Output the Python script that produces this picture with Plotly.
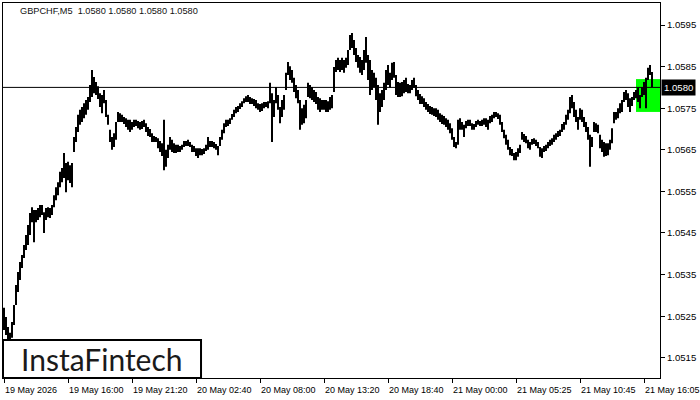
import plotly.graph_objects as go

# ---- data (prices as points above BASE, 1 point = 0.00001) ----
BASE = 1.05
high_pts = [
    270, 248, 224, 210, 236, 277, 325, 356, 380, 397, 421, 445, 469, 498, 512, 505, 505, 510, 517, 517, 500, 510, 512, 510, 517,
    541, 560, 572, 597, 606, 642, 618, 621, 613, 618, 681, 705, 734, 746, 753, 762, 770, 777, 806, 842, 825, 813, 803, 786, 782,
    794, 770, 734, 698, 681, 690, 717, 741, 738, 734, 729, 726, 722, 722, 717, 722, 722, 719, 717, 719, 722, 714, 705, 700, 690,
    683, 681, 678, 671, 666, 722, 650, 662, 681, 674, 666, 662, 662, 659, 662, 671, 671, 674, 669, 662, 659, 654, 654, 654, 652,
    654, 662, 681, 671, 671, 669, 664, 659, 681, 698, 714, 722, 722, 726, 736, 746, 753, 755, 762, 767, 774, 779, 782, 777, 774,
    772, 770, 762, 760, 762, 765, 765, 767, 811, 786, 770, 801, 782, 753, 770, 782, 835, 861, 851, 842, 823, 806, 794, 770, 750,
    758, 770, 811, 806, 801, 794, 789, 777, 774, 770, 770, 770, 767, 777, 782, 849, 866, 871, 866, 871, 866, 871, 890, 926, 931,
    914, 895, 878, 873, 866, 890, 921, 878, 866, 842, 835, 823, 806, 786, 794, 811, 842, 854, 835, 859, 861, 830, 813, 811, 813,
    818, 823, 808, 806, 818, 823, 806, 794, 784, 779, 774, 765, 760, 755, 753, 750, 750, 746, 738, 734, 731, 726, 722, 714, 702,
    681, 669, 722, 726, 717, 710, 719, 722, 722, 714, 712, 719, 722, 719, 722, 726, 726, 722, 731, 734, 741, 741, 738, 734, 717,
    698, 686, 674, 657, 652, 642, 645, 654, 662, 693, 688, 683, 674, 669, 676, 678, 674, 669, 657, 654, 659, 662, 669, 674, 678,
    686, 690, 695, 698, 712, 717, 734, 746, 777, 782, 765, 746, 729, 750, 746, 729, 717, 705, 686, 681, 717, 714, 710, 686, 674,
    669, 666, 666, 674, 702, 741, 741, 750, 762, 770, 789, 794, 786, 774, 777, 789, 794, 799, 782, 801, 813, 823, 847, 854, 837,
]
low_pts = [
    217, 205, 188, 181, 198, 229, 277, 308, 337, 366, 390, 409, 421, 445, 476, 428, 476, 481, 488, 493, 450, 481, 488, 486, 493,
    512, 529, 541, 560, 572, 582, 548, 577, 570, 560, 645, 669, 693, 710, 717, 726, 734, 746, 765, 777, 786, 782, 772, 753, 738,
    762, 729, 710, 669, 650, 657, 674, 717, 717, 717, 712, 705, 698, 693, 698, 705, 707, 702, 698, 700, 705, 693, 683, 681, 669,
    669, 669, 654, 645, 635, 601, 609, 630, 650, 645, 642, 642, 645, 645, 650, 657, 659, 659, 657, 645, 645, 635, 630, 637, 637,
    640, 647, 650, 657, 657, 654, 650, 637, 659, 674, 690, 705, 707, 712, 722, 729, 738, 741, 748, 753, 762, 765, 765, 760, 760,
    755, 750, 746, 741, 743, 750, 753, 750, 762, 669, 729, 762, 746, 714, 729, 746, 794, 830, 818, 811, 789, 774, 762, 698, 710,
    714, 726, 777, 774, 770, 765, 760, 746, 741, 746, 746, 741, 741, 746, 750, 789, 837, 842, 837, 842, 835, 847, 854, 890, 895,
    878, 861, 847, 835, 830, 842, 859, 818, 782, 794, 801, 770, 710, 741, 753, 770, 794, 806, 799, 818, 823, 782, 777, 777, 779,
    786, 789, 786, 786, 794, 799, 779, 770, 760, 760, 753, 746, 741, 736, 734, 731, 729, 722, 717, 712, 710, 705, 698, 690, 674,
    657, 654, 662, 698, 698, 681, 702, 707, 707, 698, 698, 705, 710, 707, 707, 710, 705, 698, 714, 717, 726, 729, 724, 710, 693,
    678, 662, 650, 637, 635, 625, 625, 633, 642, 674, 669, 666, 654, 650, 662, 664, 659, 654, 633, 630, 645, 647, 654, 659, 662,
    669, 674, 681, 683, 693, 698, 710, 722, 738, 750, 729, 717, 698, 722, 717, 705, 693, 674, 609, 657, 693, 693, 690, 654, 645,
    633, 635, 637, 650, 666, 714, 722, 726, 738, 741, 765, 770, 753, 741, 755, 770, 774, 765, 750, 777, 782, 750, 818, 830, 801,
]
bar_step = 2  # each entry covers two M5 bars

time_labels = ["19 May 2026", "19 May 16:00", "19 May 21:20", "20 May 02:40", "20 May 08:00",
               "20 May 13:20", "20 May 18:40", "21 May 00:00", "21 May 05:25", "21 May 10:45",
               "21 May 16:05"]
label_bars = [0, 64, 128, 192, 256, 320, 384, 448, 512, 576, 640]

price_ticks = [1.0515, 1.0525, 1.0535, 1.0545, 1.0555, 1.0565, 1.0575, 1.0585, 1.0595]
last_price = 1.0580
title_text = "GBPCHF,M5&nbsp;&nbsp;1.0580 1.0580 1.0580 1.0580"
pattern_bars = [632, 656]
pattern_prices = [1.05741, 1.05820]

assert len(high_pts) == len(low_pts)

xs, ys = [], []
for i, (h, l) in enumerate(zip(high_pts, low_pts)):
    x = i * bar_step
    xs += [x, x, None]
    ys += [BASE + l / 1e5, BASE + h / 1e5, None]

fig = go.Figure(go.Scatter(x=xs, y=ys, mode="lines",
                           line=dict(color="black", width=2), hoverinfo="skip"))

fig.update_layout(width=700, height=400, margin=dict(l=3, r=40, t=3, b=22),
                  paper_bgcolor="white", plot_bgcolor="white", showlegend=False,
                  font=dict(family="Liberation Sans", color="black"))

fig.update_xaxes(range=[-1, 656], showgrid=False, zeroline=False, showline=True,
                 linecolor="black", linewidth=1, mirror=True, tickvals=label_bars,
                 ticks="outside", ticklen=4, tickcolor="black", showticklabels=False)
fig.update_yaxes(range=[1.051014, 1.060029], side="right", showgrid=False, zeroline=False,
                 showline=True, linecolor="black", linewidth=1, mirror=True,
                 tickvals=price_ticks, ticktext=[f"{v:.4f}" for v in price_ticks],
                 ticks="outside", ticklen=4, tickcolor="black",
                 tickfont=dict(family="Liberation Sans", size=9.6, color="black"))

shapes = [
    dict(type="rect", xref="x", yref="y", x0=pattern_bars[0], x1=pattern_bars[1],
         y0=pattern_prices[0], y1=pattern_prices[1], fillcolor="#00ff00",
         line=dict(width=0), layer="below"),
    dict(type="line", xref="paper", yref="y", x0=0, x1=1, y0=last_price, y1=last_price,
         line=dict(color="black", width=1)),
    dict(type="rect", xref="paper", yref="paper", x0=0, x1=0.3014, y0=0, y1=0.1013,
         fillcolor="white", line=dict(color="black", width=2), layer="above"),
]
fig.update_layout(shapes=shapes)

ann = [
    dict(text=title_text, xref="paper", yref="paper", x=0.0228, y=0.9787,
         xanchor="left", yanchor="middle", showarrow=False,
         font=dict(family="Liberation Sans", size=9.2, color="#111111")),
    dict(text="InstaFintech", xref="paper", yref="paper", x=0.1507, y=0.0507,
         xanchor="center", yanchor="middle", showarrow=False,
         font=dict(family="Lato", size=30, color="#1a1a1a")),
    dict(text=f"{last_price:.4f}", xref="paper", yref="y", x=1, y=last_price,
         xanchor="left", yanchor="middle", xshift=1, showarrow=False,
         bgcolor="black", borderpad=2,
         font=dict(family="Liberation Sans", size=9.6, color="white")),
]
for b, t in zip(label_bars, time_labels):
    ann.append(dict(text=t, xref="x", yref="paper", x=b, y=-0.0133, xanchor="left",
                    yanchor="top", xshift=-1, showarrow=False,
                    font=dict(family="Liberation Sans", size=9, color="black")))
fig.update_layout(annotations=ann)

fig.write_html("out.html", config={"displayModeBar": False},
               post_script="document.body.style.margin='0';document.body.style.overflow='hidden';")
